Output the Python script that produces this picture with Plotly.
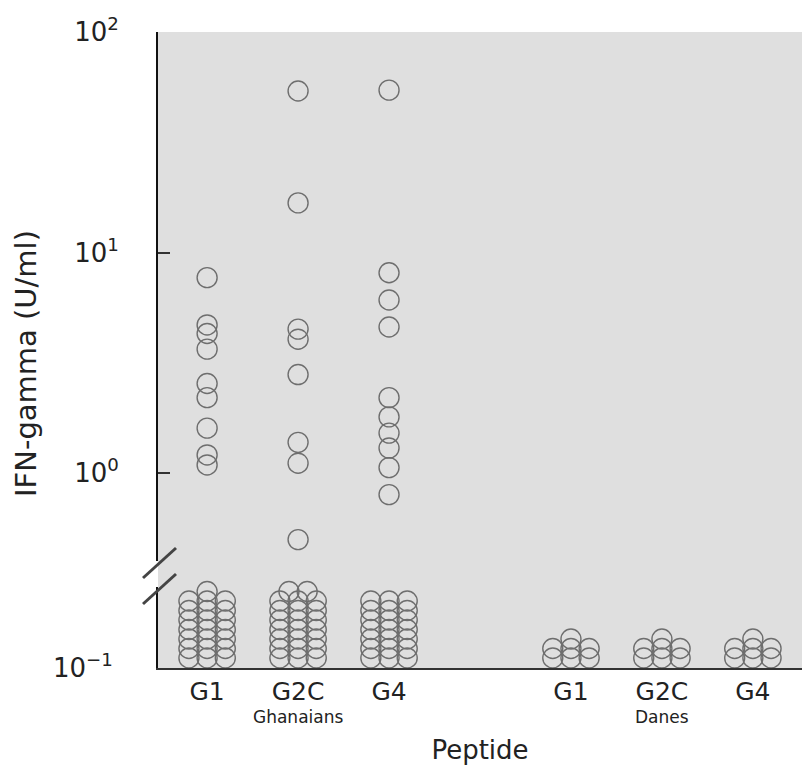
import plotly.graph_objects as go

# ---------------- data ----------------
categories = ["G1", "G2C", "G4", "G1", "G2C", "G4"]
cat_pos = [1, 2, 3, 5, 6, 7]
group_names = ["Ghanaians", "Danes"]
group_centers = [2, 6]

# responders (U/ml), Ghanaians
ghana_g1 = [7.7, 4.7, 4.3, 3.65, 2.55, 2.2, 1.6, 1.21, 1.09]
ghana_g2c = [54, 16.8, 4.5, 4.05, 2.8, 1.38, 1.11, 0.5]
ghana_g4 = [54.5, 8.1, 6.1, 4.6, 2.2, 1.8, 1.52, 1.3, 1.06, 0.8]
responders = [ghana_g1, ghana_g2c, ghana_g4, [], [], []]

# non-responders (below break), count per peptide
nonresp_counts = [22, 23, 21, 7, 7, 7]

ytick_vals = [1, 10, 100]
ytick_text = ["10<sup>0</sup>", "10<sup>1</sup>", "10<sup>2</sup>"]

# ---------------- style ----------------
FONT = "DejaVu Sans, Liberation Sans, sans-serif"
MC = "#6e6e6e"
BG = "#dfdfdf"
MSIZE = 20


def stack(n, per_row=3, dx=0.2):
    xs, ys = [], []
    full, rem = divmod(n, per_row)
    for r in range(full):
        for c in range(per_row):
            xs.append((c - (per_row - 1) / 2) * dx)
            ys.append(r)
    if rem == 1:
        xs.append(0.0)
        ys.append(full)
    elif rem == 2:
        xs += [-dx / 2, dx / 2]
        ys += [full, full]
    return xs, ys


fig = go.Figure()

marker = dict(symbol="circle-open", size=MSIZE, color=MC, line=dict(width=1.4, color=MC))

for pos, vals in zip(cat_pos, responders):
    if vals:
        fig.add_trace(go.Scatter(x=[pos] * len(vals), y=vals, mode="markers",
                                 marker=marker, xaxis="x", yaxis="y2",
                                 cliponaxis=False, showlegend=False))

for pos, n in zip(cat_pos, nonresp_counts):
    dxs, rows = stack(n)
    fig.add_trace(go.Scatter(x=[pos + d for d in dxs], y=rows, mode="markers",
                             marker=marker, xaxis="x", yaxis="y",
                             cliponaxis=False, showlegend=False))

W, H = 802, 772
L, R, T, B = 158, 0, 32, 104
pw, ph = W - L - R, H - T - B


def px_x(p):
    return (p - L) / pw


def px_y(p):
    return (H - B - p) / ph


low_top_px, up_bot_px = 587, 561

fig.update_layout(
    width=W, height=H,
    margin=dict(l=L, r=R, t=T, b=B),
    paper_bgcolor="white",
    plot_bgcolor=BG,
    font=dict(family=FONT, color="#222", size=24),
    xaxis=dict(range=[0.46, 7.54], tickvals=cat_pos, ticktext=categories,
               showline=True, linecolor="#333", linewidth=1.5, ticks="",
               showgrid=False, zeroline=False, anchor="y",
               tickfont=dict(size=25), ticklabelstandoff=0,
               title=dict(text="Peptide", font=dict(size=26), standoff=36)),
    yaxis=dict(domain=[0, px_y(low_top_px)], range=[-1.05, 7.47],
               tickvals=[-1.05], ticktext=["10<sup>\u22121</sup>"],
               showline=True, linecolor="#111", linewidth=2, ticks="",
               showgrid=False, zeroline=False, anchor="x",
               tickfont=dict(size=26), ticklabelstandoff=38),
    yaxis2=dict(domain=[px_y(up_bot_px), 1], type="log", range=[-0.398, 2.0],
                tickvals=ytick_vals, ticktext=ytick_text,
                showline=True, linecolor="#111", linewidth=2,
                ticks="inside", ticklen=12, tickwidth=1.5, tickcolor="#333",
                showgrid=False, zeroline=False, anchor="x",
                tickfont=dict(size=26), ticklabelstandoff=32),
)

# continuous grey background across the axis break
fig.add_shape(type="rect", xref="paper", yref="paper", x0=0, x1=1, y0=0, y1=1,
              fillcolor=BG, line=dict(width=0), layer="below")

# axis-break marks
for (x0, y0, x1, y1) in [(143, 578, 176, 548), (143, 604, 176, 574)]:
    fig.add_shape(type="line", xref="paper", yref="paper",
                  x0=px_x(x0), y0=px_y(y0), x1=px_x(x1), y1=px_y(y1),
                  line=dict(color="#444", width=3))

# group labels
for name, c in zip(group_names, group_centers):
    fig.add_annotation(x=c, y=0, xref="x", yref="paper", yanchor="top",
                       yshift=-37, text=name, showarrow=False,
                       font=dict(size=17, family=FONT))

# y-axis title
fig.add_annotation(x=px_x(26), y=px_y(364), xref="paper", yref="paper",
                   xanchor="center", yanchor="middle",
                   text="IFN-gamma (U/ml)", textangle=-90, showarrow=False,
                   font=dict(size=29, family=FONT))

fig.write_html("out.html")
